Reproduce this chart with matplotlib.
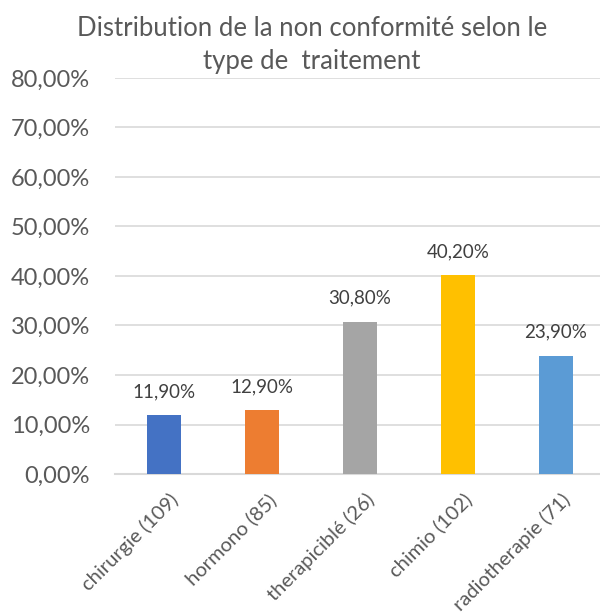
import matplotlib
matplotlib.use("Agg")
import matplotlib.pyplot as plt
import matplotlib.transforms as mtransforms

# data
categories = ["chirurgie (109)", "hormono (85)", "therapiciblé (26)", "chimio (102)", "radiotherapie (71)"]
values = [11.9, 12.9, 30.8, 40.2, 23.9]
colors = ["#4472C4", "#ED7D31", "#A5A5A5", "#FFC000", "#5B9BD5"]
yticks = [0, 10, 20, 30, 40, 50, 60, 70, 80]

txt = "#595959"
plt.rcParams['font.family'] = ['Lato', 'DejaVu Sans']

def pct(v):
    return ("%.2f%%" % v).replace('.', ',')

fig = plt.figure(figsize=(6, 6.16), dpi=100)
ax = fig.add_axes([115/600, 1 - 474/616, 490/600, (474 - 78)/616])

x = list(range(len(categories)))
ax.bar(x, values, width=0.337, color=colors, zorder=3)

for xi, v in zip(x, values):
    ax.annotate(pct(v), (xi, v), xytext=(0, 17), textcoords='offset points',
                ha='center', va='center', fontsize=13.5, color="#404040")

ax.set_xlim(-0.5, len(categories) - 0.5)
ax.set_ylim(0, 80)
ax.set_yticks(yticks)
ax.set_yticklabels([pct(t) for t in yticks])
ax.yaxis.grid(True, color="#D9D9D9", linewidth=1.2, zorder=0)
ax.set_axisbelow(True)
for s in ['top', 'right', 'left']:
    ax.spines[s].set_visible(False)
ax.spines['bottom'].set_color("#D9D9D9")
ax.spines['bottom'].set_linewidth(1.5)

ax.tick_params(axis='y', length=0, pad=18, labelsize=17, labelcolor=txt)
ax.tick_params(axis='x', length=0, pad=12, labelsize=14.5, labelcolor=txt)
ax.set_xticks(x)
ax.set_xticklabels(categories, rotation=45, ha='right', rotation_mode='anchor')
# nudge the rotated labels a bit to the right, like the original
shift = mtransforms.ScaledTranslation(5/100, 0, fig.dpi_scale_trans)
for lab in ax.get_xticklabels():
    lab.set_transform(lab.get_transform() + shift)

fig.text(0.52, 1 - 45/616, "Distribution de la non conformité selon le\ntype de  traitement",
         ha='center', va='center', fontsize=18.5, color=txt, linespacing=1.4)

fig.savefig("out.png", dpi=100)
